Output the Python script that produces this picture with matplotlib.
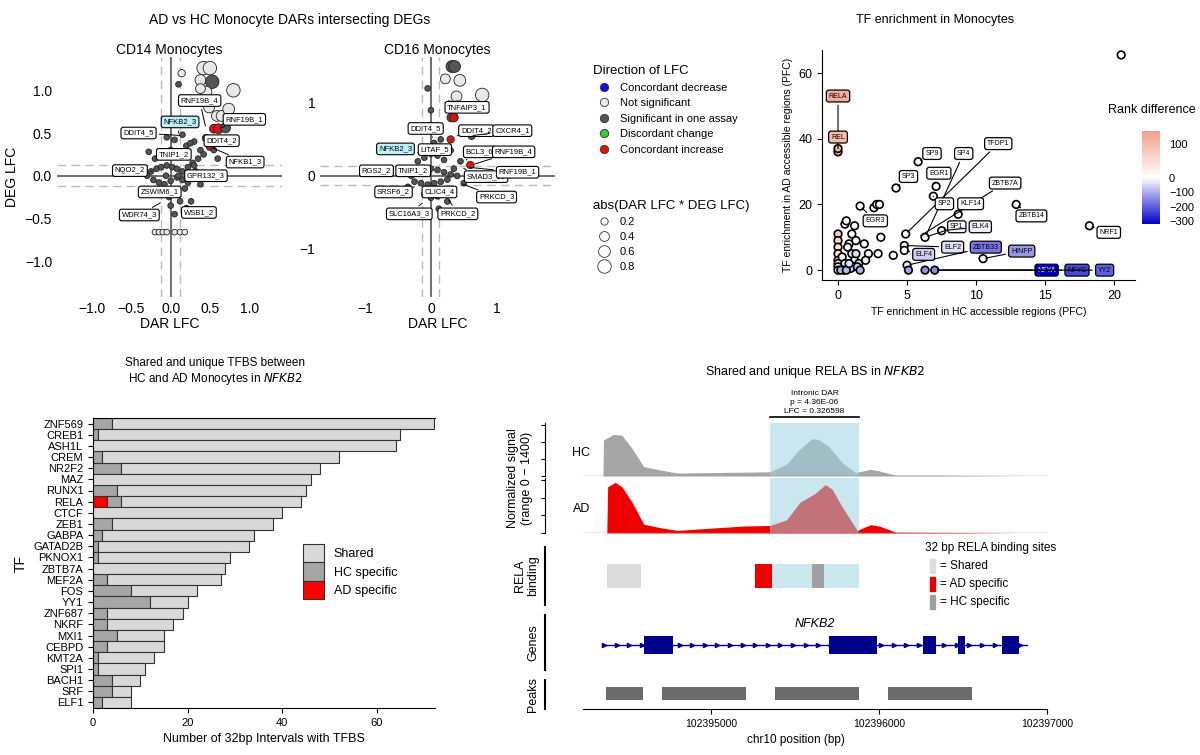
import numpy as np
import matplotlib
matplotlib.use("Agg")
import matplotlib.pyplot as plt
from matplotlib.colors import LinearSegmentedColormap, TwoSlopeNorm
from matplotlib.lines import Line2D

plt.rcParams['font.family'] = ['Liberation Sans', 'DejaVu Sans']

# ---------------- data ----------------
cat_colors = {'dn': '#1010e0', 'ns': '#e8e8e8', 'sig': '#555555', 'dis': '#33cc33', 'up': '#e01010'}

# CD14 volcano-ish points: x, y, category, abs size
cd14_x = [0.42, 0.50, 0.38, 0.53, 0.45, 0.38, 0.80, 0.14, 0.10, 0.49, 0.59, 0.65, 0.74, 0.55, 0.61, 0.70, 0.45, 0.51, 0.50,
          -0.20, -0.15, -0.10, -0.05, 0.05, 0.12, 0.18,
          -0.25, -0.18, -0.12, -0.05, 0.02, 0.08, 0.15, 0.22, 0.28, 0.35, -0.22, -0.15, -0.08, 0.0, 0.08, 0.15, 0.22, 0.30,
          -0.20, -0.10, 0.0, 0.10, 0.20, 0.30, 0.38, -0.12, -0.02, 0.08, 0.18, 0.26, -0.05, 0.05, 0.15, 0.25, 0.32,
          0.42, 0.55, 0.60, 0.38, -0.28, -0.3, 0.0, 0.05, 0.12, 0.2, 0.3, -0.06, 0.1]
cd14_y = [1.26, 1.26, 1.12, 1.10, 0.98, 1.02, 1.00, 1.20, 1.07, 0.80, 0.70, 0.70, 0.78, 0.55, 0.55, 0.56, 0.44, 0.43, 0.34,
          -0.66, -0.66, -0.66, -0.66, -0.66, -0.66, -0.66,
          0.05, 0.08, 0.10, 0.12, 0.10, 0.08, 0.05, 0.10, 0.15, 0.20, -0.05, -0.08, -0.10, -0.06, -0.02, -0.05, -0.08, 0.02,
          0.20, 0.25, 0.30, 0.28, 0.35, 0.40, 0.30, -0.20, -0.25, -0.22, -0.15, -0.30, 0.45, 0.42, 0.48, 0.38, 0.05,
          0.25, 0.30, 0.20, -0.10, 0.28, 0.0, -0.35, -0.45, -0.30, -0.38, 0.12, 0.0, 0.0]
cd14_cat = ['ns'] * 3 + ['sig'] + ['ns'] * 4 + ['sig'] + ['ns'] * 4 + ['up', 'up', 'sig', 'up', 'up', 'up'] + ['ns'] * 7 + ['sig'] * 48
cd14_size = [0.8, 0.8, 0.5, 0.8, 0.6, 0.4, 0.8, 0.2, 0.1, 0.5, 0.5, 0.5, 0.6, 0.3, 0.4, 0.4, 0.2, 0.2, 0.2] + [0.1] * 55

cd16_x = [0.32, 0.36, 0.22, 0.44, 0.39, 0.78, 0.31, 0.35, 0.28, 0.40, 0.50, 0.62, 0.30, 0.60,
          -0.3, -0.2, -0.1, 0.0, 0.1, 0.2, 0.3, 0.4, -0.25, -0.15, -0.05, 0.05, 0.15, 0.25, 0.35,
          -0.2, -0.1, 0.0, 0.1, 0.2, 0.3, -0.1, 0.0, 0.1, 0.2, 0.05, 0.15, -0.35, 0.45, 0.5, 0.25, 0.12, -0.05, 0.0]
cd16_y = [1.50, 1.50, 1.33, 1.31, 1.09, 1.11, 0.80, 0.80, 0.98, 0.98, 0.60, 0.55, 0.50, 0.15,
          0.0, 0.05, 0.08, 0.1, 0.08, 0.05, 0.02, 0.0, -0.08, -0.1, -0.12, -0.1, -0.08, -0.05, 0.1,
          0.2, 0.25, 0.3, 0.28, 0.22, 0.35, -0.25, -0.3, -0.28, -0.2, 0.45, 0.5, -0.15, 0.2, -0.1, -0.35, -0.45, 1.2, 0.9]
cd16_cat = ['sig', 'sig', 'ns', 'ns', 'ns', 'ns', 'sig', 'up', 'sig', 'sig', 'up', 'sig', 'up', 'up'] + ['sig'] * 34
cd16_size = [0.6, 0.6, 0.4, 0.6, 0.5, 0.8, 0.3, 0.3, 0.2, 0.2, 0.2, 0.2, 0.2, 0.2] + [0.1] * 34

cd14_labels = ['RNF19B_4', 'NFKB2_3', 'RNF19B_1', 'DDIT4_5', 'DDIT4_2', 'TNIP1_2', 'NFKB1_3', 'NQO2_2',
               'GPR132_3', 'ZSWIM6_1', 'WDR74_3', 'WSB1_2']
cd14_lab_xy = [(0.37, 0.88), (0.12, 0.63), (0.94, 0.66), (-0.41, 0.50), (0.65, 0.41), (0.04, 0.25),
               (0.95, 0.16), (-0.52, 0.06), (0.45, 0.0), (-0.14, -0.19), (-0.40, -0.46), (0.36, -0.43)]
cd14_pt_xy = [(0.45, 0.55), (0.10, 0.50), (0.61, 0.55), (0.15, 0.47), (0.45, 0.44), (0.05, 0.2),
              (0.50, 0.34), (-0.2, 0.05), (0.3, 0.02), (-0.05, -0.12), (-0.1, -0.3), (0.2, -0.35)]

cd16_labels = ['TNFAIP3_1', 'DDIT4_5', 'DDIT4_2', 'CXCR4_1', 'NFKB2_3', 'LITAF_5', 'BCL3_6', 'RNF19B_4',
               'RGS2_2', 'TNIP1_2', 'SMAD3_10', 'RNF19B_1', 'SRSF6_2', 'CLIC4_4', 'PRKCD_3', 'SLC16A3_3', 'PRKCD_2']
cd16_lab_xy = [(0.55, 0.94), (-0.08, 0.65), (0.69, 0.62), (1.24, 0.62), (-0.54, 0.37), (0.06, 0.36),
               (0.74, 0.33), (1.26, 0.33), (-0.83, 0.07), (-0.27, 0.07), (0.84, -0.01), (1.32, 0.05),
               (-0.57, -0.22), (0.13, -0.22), (1.0, -0.29), (-0.33, -0.52), (0.41, -0.52)]
cd16_pt_xy = [(0.35, 0.80), (0.05, 0.5), (0.40, 0.55), (0.60, 0.55), (-0.1, 0.3), (0.3, 0.4),
              (0.50, 0.2), (0.62, 0.15), (-0.3, 0.0), (-0.1, 0.05), (0.5, 0.1), (0.55, 0.12),
              (-0.25, -0.15), (0.1, -0.15), (0.45, -0.1), (-0.1, -0.35), (0.25, -0.3)]

# TF enrichment
tf_x = [20.5, 0, 0, 0, 0, 0, 0, 0, 0, 0, 0, 0.5, 0.6, 1.0, 1.2, 0.8, 1.3, 1.6, 1.9, 2.2, 2.6, 2.8, 3.0, 3.1, 2.9, 0.3, 0.5,
        0.7, 1.0, 1.2, 1.5, 2.0, 1.1, 0.4, 0.9, 1.4, 0.2, 0.6, 1.6, 4.0, 4.2, 4.8, 4.8, 4.9, 5.0, 5.8, 6.3, 6.9, 7.1, 7.5,
        8.7, 10.5, 12.9, 18.2, 5.1, 6.3, 7.0, 0.8, 1.3]
tf_y = [65.5, 36, 37, 11, 9, 7, 5, 3, 2, 1, 0, 14, 15, 11, 13.5, 8, 9, 19.5, 8, 5, 19, 20, 20, 10, 5, 4, 2, 7, 5, 3, 2,
        3, 1, 0, 0.5, 1, 0, 0, 0, 4.5, 25, 7.5, 6, 11, 1.5, 33, 10, 22.5, 25.5, 12, 17, 3.5, 20, 13.5, 0, 0, 0, 2, 5]
tf_rank = [0, 110, 110, 80, 60, 50, 40, 40, 30, 20, 10, 0, 0, 0, 0, 0, 0, 0, 0, 0, 0, 0, 0, 0, 0, -20, -30, -10, -20,
           -30, -40, -20, -60, -80, -60, -70, -100, -90, -100, 0, 0, 0, 0, 0, -20, 0, 0, 0, 0, 0, 0, 0, 0, 0, -120,
           -140, -150, -40, -40]
tf_labels = ['RELA', 'REL', 'SP9', 'SP3', 'EGR1', 'SP4', 'TFDP1', 'ZBTB7A', 'SP2', 'KLF14', 'EGR3', 'SP1', 'ELK4',
             'ZBTB14', 'NRF1', 'ELF2', 'ZBTB33', 'HINFP', 'ELF4', 'NFYA', 'NFYC', 'YY2']
tf_lab_xy = [(0, 53), (0, 40.5), (6.8, 35.5), (5.1, 28.5), (7.3, 29.5), (9.1, 35.5), (11.6, 38.5), (12.1, 26.5),
             (7.7, 20.2), (9.6, 20.2), (2.7, 15), (8.6, 13.2), (10.3, 13.2), (14.0, 16.5), (19.6, 11.5),
             (8.3, 7), (10.7, 7), (13.3, 5.8), (6.2, 4.8), (15.1, 0), (17.3, 0), (19.3, 0)]
tf_lab_pt = [(0, 37), (0, 37), (5.8, 33), (4.2, 25), (6.9, 25.5), (6.3, 10), (4.9, 11), (5.8, 10),
             (6.9, 22.5), (8.7, 17), (1.6, 19.5), (6.3, 10), (7.5, 12), (12.9, 20), (18.2, 13.5),
             (4.8, 7.5), (5.0, 1.5), (10.5, 3.5), (4.8, 6), (7.0, 0), (7.0, 0), (7.0, 0)]
tf_lab_rank = [120, 100, 0, 5, 0, 0, 0, 0, 0, 0, 0, -10, -20, 0, 0, -40, -170, -130, -60, -320, -230, -200]

# bar chart
bar_tf = ['ZNF569', 'CREB1', 'ASH1L', 'CREM', 'NR2F2', 'MAZ', 'RUNX1', 'RELA', 'CTCF', 'ZEB1', 'GABPA', 'GATAD2B',
          'PKNOX1', 'ZBTB7A', 'MEF2A', 'FOS', 'YY1', 'ZNF687', 'NKRF', 'MXI1', 'CEBPD', 'KMT2A', 'SPI1', 'BACH1',
          'SRF', 'ELF1']
bar_total = [72, 65, 64, 52, 48, 46, 45, 44, 40, 38, 34, 33, 29, 28, 27, 22, 20, 19, 17, 15, 15, 13, 11, 10, 8, 8]
bar_hc = [4, 1, 0, 2, 6, 0, 5, 3, 0, 4, 2, 1, 1, 0, 3, 8, 12, 3, 3, 5, 3, 1, 1, 4, 4, 2]
bar_ad = [0, 0, 0, 0, 0, 0, 0, 3, 0, 0, 0, 0, 0, 0, 0, 0, 0, 0, 0, 0, 0, 0, 0, 0, 0, 0]

# genome track
pos_hc = [102394357, 102394360, 102394420, 102394470, 102394530, 102394600, 102394700, 102394800, 102395000, 102395200,
          102395350, 102395450, 102395520, 102395600, 102395640, 102395700, 102395780, 102395860, 102395950, 102396000,
          102396100, 102396400, 102396600, 102396880]
sig_hc = [0, 850, 980, 960, 650, 220, 140, 70, 80, 90, 100, 280, 600, 880, 860, 700, 320, 80, 160, 120, 20, 20, 10, 0]
pos_ad = [102394380, 102394385, 102394430, 102394470, 102394530, 102394600, 102394700, 102394800, 102395000, 102395200,
          102395350, 102395450, 102395530, 102395620, 102395680, 102395720, 102395780, 102395870, 102395950, 102396000,
          102396100, 102396300, 102396500, 102396830]
sig_ad = [0, 1050, 1150, 1050, 700, 200, 120, 60, 110, 160, 170, 300, 700, 900, 1100, 1000, 600, 60, 190, 160, 20, 15,
          10, 0]
dar_start, dar_end = 102395351, 102395881
rela_shared = (102394381, 102394583)
rela_ad = (102395262, 102395363)
rela_hc = (102395601, 102395673)
gene_span = (102394363, 102396881)
exons = [(102394601, 102394774), (102395702, 102395988), (102396262, 102396339), (102396470, 102396510),
         (102396732, 102396833)]
peaks = [(102394375, 102394595), (102394708, 102395208), (102395381, 102395881), (102396054, 102396554)]

# ---------------- figure ----------------
fig = plt.figure(figsize=(12, 7.55), dpi=100)
W, H = 1200, 755


def px_axes(l, t, r, b):
    return fig.add_axes([l / W, 1 - b / H, (r - l) / W, (b - t) / H])


def volcano(ax, xs, ys, cats, sizes, labels, lab_xy, pt_xy, xlim, ylim, xt, yt, title, dash):
    ax.axhline(0, color='#555555', lw=1.2, zorder=1)
    ax.axvline(0, color='#555555', lw=1.2, zorder=1)
    for d in (-dash, dash):
        ax.axhline(d, color='#bbbbbb', ls=(0, (6, 4)), lw=1, zorder=1)
        ax.axvline(d, color='#bbbbbb', ls=(0, (6, 4)), lw=1, zorder=1)
    ax.scatter(xs, ys, s=[6 + 110 * s for s in sizes], c=[cat_colors[c] for c in cats],
               edgecolors='#222222', linewidths=0.6, zorder=2)
    for lab, (lx, ly), (px, py) in zip(labels, lab_xy, pt_xy):
        fc = '#bdf0f5' if lab == 'NFKB2_3' else 'white'
        ax.annotate(lab, xy=(px, py), xytext=(lx, ly), fontsize=5.5, ha='center', va='center', zorder=4,
                    bbox=dict(boxstyle='round,pad=0.3', fc=fc, ec='black', lw=0.8),
                    arrowprops=dict(arrowstyle='-', color='black', lw=0.7))
    ax.set_xlim(*xlim)
    ax.set_ylim(*ylim)
    ax.set_xticks(xt)
    ax.set_yticks(yt)
    ax.tick_params(length=0, labelsize=10)
    for s in ax.spines.values():
        s.set_visible(False)
    ax.set_title(title, fontsize=10, pad=2)
    ax.set_xlabel('DAR LFC', fontsize=10, labelpad=1)


ax1 = px_axes(57, 57, 282, 297)
volcano(ax1, cd14_x, cd14_y, cd14_cat, cd14_size, cd14_labels, cd14_lab_xy, cd14_pt_xy,
        (-1.45, 1.42), (-1.42, 1.39), [-1.0, -0.5, 0.0, 0.5, 1.0], [-1.0, -0.5, 0.0, 0.5, 1.0], 'CD14 Monocytes', 0.12)
ax1.set_xticklabels(['\u22121.0', '\u22120.5', '0.0', '0.5', '1.0'])
ax1.set_yticklabels(['\u22121.0', '\u22120.5', '0.0', '0.5', '1.0'])
ax1.set_ylabel('DEG LFC', fontsize=10)

ax2 = px_axes(320, 57, 555, 297)
volcano(ax2, cd16_x, cd16_y, cd16_cat, cd16_size, cd16_labels, cd16_lab_xy, cd16_pt_xy,
        (-1.69, 1.89), (-1.66, 1.63), [-1, 0, 1], [-1, 0, 1], 'CD16 Monocytes', 0.13)
ax2.set_xticklabels(['\u22121', '0', '1'])
ax2.set_yticklabels(['\u22121', '0', '1'])
fig.text(290 / W, 1 - 20 / H, 'AD vs HC Monocyte DARs intersecting DEGs', ha='center', va='center', fontsize=10)

# legends for volcano
leg_names = ['Concordant decrease', 'Not significant', 'Significant in one assay', 'Discordant change',
             'Concordant increase']
h1 = [Line2D([], [], marker='o', ls='', mfc=cat_colors[k], mec='#333333', ms=6, mew=0.6)
      for k in ['dn', 'ns', 'sig', 'dis', 'up']]
l1 = fig.legend(h1, leg_names, title='Direction of LFC', loc='upper left', bbox_to_anchor=(583 / W, 1 - 55 / H),
                frameon=False, fontsize=8, title_fontsize=9.5, handletextpad=0.4, labelspacing=0.5)
l1._legend_box.align = 'left'
h2 = [Line2D([], [], marker='o', ls='', mfc='white', mec='#333333', ms=np.sqrt(6 + 110 * s), mew=0.6)
      for s in [0.2, 0.4, 0.6, 0.8]]
l2 = fig.legend(h2, ['0.2', '0.4', '0.6', '0.8'], title='abs(DAR LFC * DEG LFC)', loc='upper left',
                bbox_to_anchor=(583 / W, 1 - 190 / H), frameon=False, fontsize=8, title_fontsize=9.5,
                handletextpad=0.4, labelspacing=0.45)
l2._legend_box.align = 'left'

# TF enrichment
cmap = LinearSegmentedColormap.from_list('rk', ['#0000cc', '#ffffff', '#f4a08a'])
norm = TwoSlopeNorm(vmin=-320, vcenter=0, vmax=140)
ax3 = px_axes(822, 50, 1135, 280)
ax3.scatter(tf_x, tf_y, c=tf_rank, cmap=cmap, norm=norm, s=30, edgecolors='black', linewidths=1.2, zorder=3)
for lab, (lx, ly), (px, py), rk in zip(tf_labels, tf_lab_xy, tf_lab_pt, tf_lab_rank):
    ax3.annotate(lab, xy=(px, py), xytext=(lx, ly), fontsize=5, ha='center', va='center', zorder=4,
                 color='white' if rk < -250 else 'black',
                 bbox=dict(boxstyle='round,pad=0.35', fc=cmap(norm(rk)), ec='black', lw=0.9),
                 arrowprops=dict(arrowstyle='-', color='black', lw=0.8))
ax3.set_xlim(-1.16, 21.5)
ax3.set_ylim(-3, 67)
ax3.set_xticks([0, 5, 10, 15, 20])
ax3.set_yticks([0, 20, 40, 60])
ax3.spines[['top', 'right']].set_visible(False)
ax3.tick_params(labelsize=9)
ax3.set_xlabel('TF enrichment in HC accessible regions (PFC)', fontsize=7.5)
ax3.set_ylabel('TF enrichment in AD accessible regions (PFC)', fontsize=7.5)
fig.text(935 / W, 1 - 20 / H, 'TF enrichment in Monocytes', ha='center', va='center', fontsize=9)
cax = px_axes(1142, 131, 1160, 224)
cb = fig.colorbar(plt.cm.ScalarMappable(norm=norm, cmap=cmap), cax=cax, ticks=[100, 0, -100, -200, -300])
cb.ax.set_yticklabels(['100', '0', '\u2212100', '\u2212200', '\u2212300'])
cb.ax.tick_params(labelsize=8, length=3, color='white')
cb.outline.set_visible(False)
fig.text(1196 / W, 1 - 110 / H, 'Rank difference', ha='right', va='center', fontsize=9)

# bar chart
ax4 = px_axes(93, 418, 435, 708)
yy = np.arange(len(bar_tf))
shared = [t - h - a for t, h, a in zip(bar_total, bar_hc, bar_ad)]
ax4.barh(yy, bar_ad, height=1, color='#ff0000', edgecolor='#333333', lw=0.8, label='AD specific')
ax4.barh(yy, bar_hc, left=bar_ad, height=1, color='#a6a6a6', edgecolor='#333333', lw=0.8, label='HC specific')
ax4.barh(yy, shared, left=[a + h for a, h in zip(bar_ad, bar_hc)], height=1, color='#d9d9d9',
         edgecolor='#333333', lw=0.8, label='Shared')
ax4.set_yticks(yy)
ax4.set_yticklabels(bar_tf, fontsize=8)
ax4.set_ylim(len(bar_tf) - 0.5, -0.5)
ax4.set_xlim(0, 72.3)
ax4.set_xticks([0, 20, 40, 60])
ax4.tick_params(axis='x', labelsize=8)
ax4.spines['right'].set_visible(False)
ax4.set_xlabel('Number of 32bp Intervals with TFBS', fontsize=9)
ax4.set_ylabel('TF', fontsize=10)
hh, ll = ax4.get_legend_handles_labels()
ax4.legend(hh[::-1], ll[::-1], loc='center left', bbox_to_anchor=(0.58, 0.47), frameon=False, fontsize=9,
           handlelength=1.7, handleheight=1.9, handletextpad=0.8, labelspacing=0)
fig.text(215 / W, 1 - 372 / H, 'Shared and unique TFBS between\nHC and AD Monocytes in $\\it{NFKB2}$',
         ha='center', va='center', fontsize=8.5)

# genome tracks
xl = (102394012, 102397000)
axh = px_axes(545, 423, 1047, 476)
axa = px_axes(545, 478, 1047, 533)
for a, p, s, c, lab in [(axh, pos_hc, sig_hc, '#a6a6a6', 'HC'), (axa, pos_ad, sig_ad, '#ee0000', 'AD')]:
    a.fill_between(p, s, color=c, lw=0, zorder=1)
    a.axvspan(dar_start, dar_end, color='#9fd3e0', alpha=0.55, lw=0, zorder=2)
    a.plot([102394240, xl[1]], [0, 0], color='#888888', lw=1)
    a.set_xlim(*xl)
    a.set_ylim(0, 1250)
    a.set_yticks([0, 400, 800, 1200])
    a.set_yticklabels([])
    a.tick_params(axis='y', length=3)
    a.set_xticks([])
    for sp in ['top', 'right', 'bottom']:
        a.spines[sp].set_visible(False)
    a.text(102394280, 550, lab, fontsize=9, ha='right', va='center')
axh.plot([dar_start, dar_end], [1380, 1380], color='black', lw=1.2, clip_on=False)
axh.text((dar_start + dar_end) / 2, 1450, 'Intronic DAR\np = 4.36E-06\nLFC = 0.326598', ha='center',
         va='bottom', fontsize=6, linespacing=1.4)
fig.text(520 / W, 1 - 478 / H, 'Normalized signal\n(range 0 \u2212 1400)', rotation=90, ha='center', va='center',
         fontsize=9)
fig.text(815 / W, 1 - 372 / H, 'Shared and unique RELA BS in $\\it{NFKB2}$', ha='center', va='center', fontsize=9)

axr = px_axes(545, 547, 1047, 605)
axr.axvspan(dar_start, dar_end, ymin=0.3, ymax=0.7, color='#a8d8e4', alpha=0.6, lw=0)
for (s0, s1), c in [(rela_shared, '#dcdcdc'), (rela_ad, '#ee0000'), (rela_hc, '#a0a0a0')]:
    axr.axvspan(s0, s1, ymin=0.3, ymax=0.7, color=c, lw=0)

axg = px_axes(545, 615, 1047, 670)
axg.plot(gene_span, [0, 0], color='#00008b', lw=1)
arrow_x = np.arange(gene_span[0], gene_span[1], 75)
axg.plot(arrow_x, np.zeros(len(arrow_x)), ls='', marker='>', color='#00008b', ms=3)
for e0, e1 in exons:
    axg.add_patch(plt.Rectangle((e0, -0.35), e1 - e0, 0.7, color='#00008b', lw=0))
axg.set_ylim(-1, 1.2)
axg.text(102395620, 0.85, 'NFKB2', style='italic', ha='center', va='center', fontsize=9)

axp = px_axes(545, 680, 1047, 709)
for p0, p1 in peaks:
    axp.add_patch(plt.Rectangle((p0, 0.3), p1 - p0, 0.45, color='#6b6b6b', lw=0))
axp.set_ylim(0, 1)

for a, lab in [(axr, 'RELA\nbinding'), (axg, 'Genes'), (axp, 'Peaks')]:
    a.set_xlim(*xl)
    a.set_yticks([])
    for sp in ['top', 'right']:
        a.spines[sp].set_visible(False)
    a.spines['left'].set_linewidth(1.5)
    if a is not axp:
        a.spines['bottom'].set_visible(False)
        a.set_xticks([])
    a.set_ylabel(lab, fontsize=9, labelpad=4)
axp.set_xticks([102395000, 102396000, 102397000])
axp.set_xticklabels(['102395000', '102396000', '102397000'], fontsize=7.5)
axp.set_xlabel('chr10 position (bp)', fontsize=8.5)
axp.spines['bottom'].set_bounds(102394240, 102397000)

fig.text(925 / W, 1 - 548 / H, '32 bp RELA binding sites', fontsize=8.5, va='center')
for i, (c, t) in enumerate([('#dcdcdc', '= Shared'), ('#ee0000', '= AD specific'), ('#a0a0a0', '= HC specific')]):
    yb = 566 + i * 18
    fig.patches.append(plt.Rectangle((930 / W, 1 - (yb + 7) / H), 5 / W, 14 / H, color=c,
                                     transform=fig.transFigure, figure=fig))
    fig.text(940 / W, 1 - yb / H, t, fontsize=8.5, va='center')

fig.savefig('out.png', dpi=100)
